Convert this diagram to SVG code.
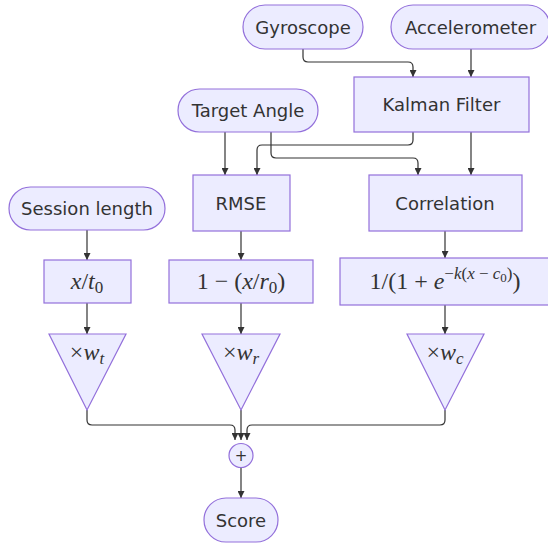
<svg xmlns="http://www.w3.org/2000/svg" width="548" height="544" viewBox="0 0 548 544">
  <style>
    .node rect, .node polygon, .node circle { fill: #ECECFF; stroke: #9370DB; stroke-width: 1.2; }
    .lbl { font-family: "DejaVu Sans", Verdana, sans-serif; font-size: 18px; fill: #333333; text-anchor: middle; }
    .math { font-family: "Liberation Serif", "DejaVu Serif", serif; font-size: 24px; fill: #333333; text-anchor: middle; }
    .it { font-style: italic; }
    .sub { font-size: 17px; }
    .sup { font-size: 17px; }
    .subsub { font-size: 13px; }
    .edge { fill: none; stroke: #333333; stroke-width: 1.2; }
  </style>
  <defs>
    <marker id="arrow" viewBox="0 0 10 10" refX="10" refY="5" markerWidth="7" markerHeight="7" markerUnits="userSpaceOnUse" orient="auto">
      <path d="M0,0 L10,5 L0,10 z" fill="#333333"/>
    </marker>
  </defs>
  <rect width="548" height="544" fill="#ffffff"/>

  <!-- connectors -->
  <g id="edges">
    <path class="edge" marker-end="url(#arrow)" d="M303,49 V57 Q303,62 308,62 H408 Q413,62 413,67 V77"/>
    <path class="edge" marker-end="url(#arrow)" d="M471,49 V77"/>
    <path class="edge" marker-end="url(#arrow)" d="M225,132 V175"/>
    <path class="edge" marker-end="url(#arrow)" d="M271,132 V153 Q271,158 276,158 H413 Q418,158 418,163 V175"/>
    <path class="edge" marker-end="url(#arrow)" d="M413,132 V140 Q413,145 408,145 H262 Q257,145 257,150 V175"/>
    <path class="edge" marker-end="url(#arrow)" d="M471,132 V175"/>
    <path class="edge" marker-end="url(#arrow)" d="M87,230 V260"/>
    <path class="edge" marker-end="url(#arrow)" d="M241,231 V260"/>
    <path class="edge" marker-end="url(#arrow)" d="M445,231 V258"/>
    <path class="edge" marker-end="url(#arrow)" d="M87,303 V334"/>
    <path class="edge" marker-end="url(#arrow)" d="M241,303 V334"/>
    <path class="edge" marker-end="url(#arrow)" d="M445,305 V334"/>
    <path class="edge" marker-end="url(#arrow)" d="M87,410 V420 Q87,425 92,425 H230 Q235,425 235,430 V440"/>
    <path class="edge" marker-end="url(#arrow)" d="M241,410 V440"/>
    <path class="edge" marker-end="url(#arrow)" d="M445,410 V420 Q445,425 440,425 H252 Q247,425 247,430 V440"/>
    <path class="edge" marker-end="url(#arrow)" d="M241,468 V498"/>
  </g>

  <!-- nodes -->
  <g id="gyroscope" class="node">
    <rect x="243" y="5" width="120" height="44" rx="22" ry="22"/>
    <text class="lbl" x="303" y="34">Gyroscope</text>
  </g>
  <g id="accelerometer" class="node">
    <rect x="391" y="5" width="159" height="44" rx="22" ry="22"/>
    <text class="lbl" x="470.5" y="34">Accelerometer</text>
  </g>
  <g id="kalman" class="node">
    <rect x="354" y="77" width="175" height="55"/>
    <text class="lbl" x="441.5" y="111">Kalman Filter</text>
  </g>
  <g id="target" class="node">
    <rect x="178" y="89" width="140" height="43" rx="21.5" ry="21.5"/>
    <text class="lbl" x="248" y="117">Target Angle</text>
  </g>
  <g id="session" class="node">
    <rect x="9" y="187" width="156" height="43" rx="21.5" ry="21.5"/>
    <text class="lbl" x="87" y="215">Session length</text>
  </g>
  <g id="rmse" class="node">
    <rect x="193" y="175" width="97" height="56"/>
    <text class="lbl" x="241" y="209.5">RMSE</text>
  </g>
  <g id="correlation" class="node">
    <rect x="369" y="175" width="153" height="56"/>
    <text class="lbl" x="445" y="209.5">Correlation</text>
  </g>
  <g id="norm-t" class="node">
    <rect x="44" y="260" width="87" height="43"/>
    <text class="math" x="87" y="289"><tspan class="it">x</tspan>/<tspan class="it">t</tspan><tspan class="sub" dy="4">0</tspan></text>
  </g>
  <g id="norm-r" class="node">
    <rect x="169" y="260" width="144" height="43"/>
    <text class="math" x="241" y="289">1 − (<tspan class="it">x</tspan>/<tspan class="it">r</tspan><tspan class="sub" dy="4">0</tspan><tspan dy="-4">)</tspan></text>
  </g>
  <g id="norm-c" class="node">
    <rect x="340" y="258" width="210" height="47"/>
    <text class="math" x="445" y="289">1/(1 + <tspan class="it">e</tspan><tspan class="sup" dy="-10">−<tspan class="it">k</tspan>(<tspan class="it">x</tspan> − <tspan class="it">c</tspan></tspan><tspan class="subsub" dy="3">0</tspan><tspan class="sup" dy="-3">)</tspan><tspan dy="10">)</tspan></text>
  </g>
  <g id="weight-t" class="node">
    <polygon points="49,334 126,334 87,410"/>
    <text class="math" x="87" y="360">×<tspan class="it">w</tspan><tspan class="it sub" dy="4">t</tspan></text>
  </g>
  <g id="weight-r" class="node">
    <polygon points="202,334 280,334 241,410"/>
    <text class="math" x="241" y="360">×<tspan class="it">w</tspan><tspan class="it sub" dy="4">r</tspan></text>
  </g>
  <g id="weight-c" class="node">
    <polygon points="407,334 484,334 445,410"/>
    <text class="math" x="445" y="360">×<tspan class="it">w</tspan><tspan class="it sub" dy="4">c</tspan></text>
  </g>
  <g id="sum" class="node">
    <circle cx="241" cy="455.5" r="12"/>
    <text class="lbl" x="241" y="461" style="font-size:15px">+</text>
  </g>
  <g id="score" class="node">
    <rect x="204" y="498" width="74" height="44" rx="22" ry="22"/>
    <text class="lbl" x="241" y="527">Score</text>
  </g>
</svg>
